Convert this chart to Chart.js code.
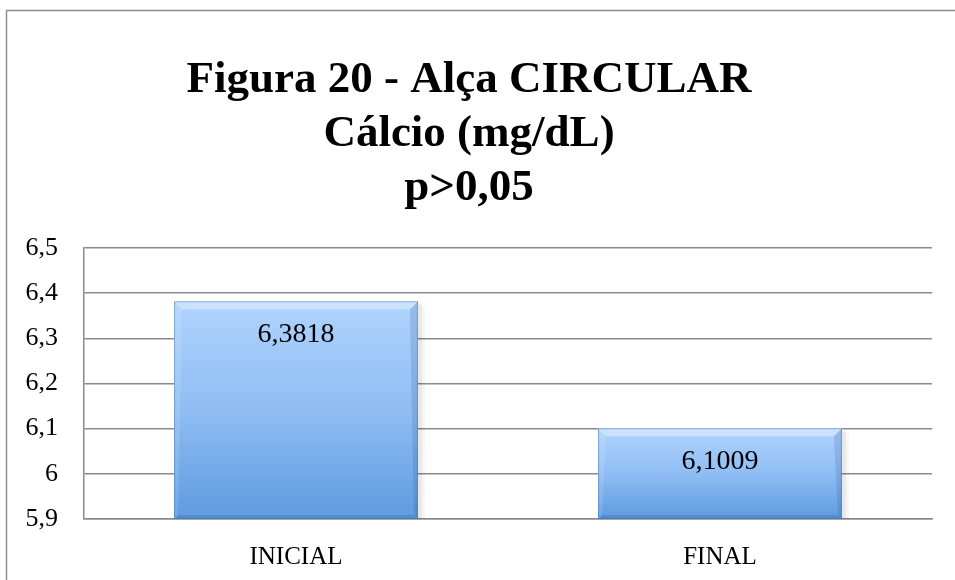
<!DOCTYPE html>
<html>
<head>
<meta charset="utf-8">
<script src="https://cdn.jsdelivr.net/npm/chart.js@4/dist/chart.umd.min.js"></script>
<style>
html,body{margin:0;padding:0;background:#fff;}
#wrap{width:955px;height:580px;position:relative;}
</style>
</head>
<body>
<div id="wrap"><canvas id="c" width="955" height="580"></canvas></div>
<script>
const titleLines = ['Figura 20 - Alça CIRCULAR', 'Cálcio (mg/dL)', 'p>0,05'];
const categories = ['INICIAL', 'FINAL'];
const values = [6.3818, 6.1009];
const valueLabels = ['6,3818', '6,1009'];
const yMin = 5.9, yMax = 6.5, yStep = 0.1;

const SERIF = '"Liberation Serif", "DejaVu Serif", serif';

const borderPlugin = {
  id: 'outerBorder',
  beforeDraw(chart) {
    const c = chart.ctx;
    c.save();
    c.fillStyle = '#fff';
    c.fillRect(0, 0, chart.width, chart.height);
    c.strokeStyle = '#8e8e8e';
    c.lineWidth = 1.5;
    c.strokeRect(6.5, 10.5, chart.width + 20, chart.height + 20);
    c.restore();
  }
};

function barBox(chart, el) {
  const p = el.getProps(['x', 'y', 'base', 'width']);
  const b = Math.min(p.base, chart.chartArea.bottom);
  return { l: p.x - p.width / 2, r: p.x + p.width / 2, t: p.y, b: b, x: p.x };
}

const bevelPlugin = {
  id: 'bevel',
  beforeDatasetsDraw(chart) {
    const c = chart.ctx;
    const meta = chart.getDatasetMeta(0);
    meta.data.forEach(el => {
      const q = barBox(chart, el);
      c.save();
      c.fillStyle = 'rgba(0,0,0,0.09)';
      c.fillRect(q.r, q.t + 3, 4, q.b - q.t - 3);
      c.fillStyle = 'rgba(0,0,0,0.04)';
      c.fillRect(q.r + 4, q.t + 5, 3, q.b - q.t - 5);
      c.restore();
    });
  },
  afterDatasetsDraw(chart) {
    const c = chart.ctx;
    const meta = chart.getDatasetMeta(0);
    meta.data.forEach(el => {
      const { l, r, t, b } = barBox(chart, el);
      c.save();
      const g = c.createLinearGradient(0, t, 0, b);
      g.addColorStop(0, '#b0d4fd');
      g.addColorStop(0.5, '#8fbdf3');
      g.addColorStop(1, '#5e9bdf');
      c.fillStyle = g;
      c.fillRect(l, t, r - l, b - t);
      const d = 8, db = 4;
      c.fillStyle = 'rgba(255,255,255,0.35)';
      c.beginPath(); c.moveTo(l, t); c.lineTo(r, t); c.lineTo(r - d, t + d); c.lineTo(l + d, t + d); c.closePath(); c.fill();
      c.fillStyle = 'rgba(255,255,255,0.12)';
      c.beginPath(); c.moveTo(l, t); c.lineTo(l + d, t + d); c.lineTo(l + db, b - db); c.lineTo(l, b); c.closePath(); c.fill();
      c.fillStyle = 'rgba(30,70,130,0.16)';
      c.beginPath(); c.moveTo(r, t); c.lineTo(r, b); c.lineTo(r - db, b - db); c.lineTo(r - d, t + d); c.closePath(); c.fill();
      c.fillStyle = 'rgba(30,70,130,0.18)';
      c.beginPath(); c.moveTo(l, b); c.lineTo(r, b); c.lineTo(r - db, b - db); c.lineTo(l + db, b - db); c.closePath(); c.fill();
      c.strokeStyle = 'rgba(60,100,160,0.4)';
      c.lineWidth = 1;
      c.strokeRect(l + 0.5, t + 0.5, r - l - 1, b - t - 1);
      c.restore();
    });
    c.save();
    c.font = '28px ' + SERIF;
    c.fillStyle = '#000';
    c.textAlign = 'center';
    c.textBaseline = 'middle';
    meta.data.forEach((el, i) => {
      c.fillText(valueLabels[i], el.x, el.y + 33);
    });
    c.restore();
  }
};

new Chart(document.getElementById('c'), {
  type: 'bar',
  data: {
    labels: categories,
    datasets: [{
      data: values,
      backgroundColor: '#8fbdf3',
      borderWidth: 0,
      categoryPercentage: 1,
      barPercentage: 0.575
    }]
  },
  options: {
    responsive: false,
    animation: false,
    devicePixelRatio: 1,
    layout: { padding: { top: 10, left: 6, right: 23, bottom: 0 } },
    plugins: {
      legend: { display: false },
      tooltip: { enabled: false },
      title: {
        display: true,
        text: titleLines,
        color: '#000',
        font: { family: SERIF, size: 45, weight: 'bold', lineHeight: 1.2 },
        padding: { top: 43, bottom: 33 }
      }
    },
    scales: {
      x: {
        grid: { display: false, drawTicks: false },
        border: { display: true, color: '#8a8a8a', width: 1.5 },
        ticks: { color: '#000', font: { family: SERIF, size: 25 }, padding: 23 },
        afterFit(s) { s.height = 61; }
      },
      y: {
        min: yMin, max: yMax,
        grid: { color: '#8a8a8a', lineWidth: 1.5, drawTicks: false },
        border: { display: true, color: '#8a8a8a', width: 1.5 },
        ticks: {
          stepSize: yStep,
          color: '#000',
          font: { family: SERIF, size: 26 },
          padding: 26,
          callback: v => (Math.round(v * 10) / 10).toString().replace('.', ',')
        },
        afterFit(s) { s.width = 78; }
      }
    }
  },
  plugins: [borderPlugin, bevelPlugin]
});
</script>
</body>
</html>
